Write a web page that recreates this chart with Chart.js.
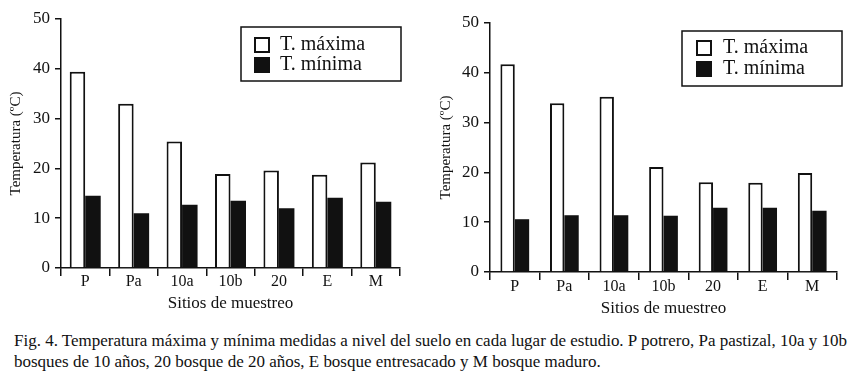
<!DOCTYPE html>
<html>
<head>
<meta charset="utf-8">
<script src="https://cdn.jsdelivr.net/npm/chart.js@4.4.0/dist/chart.umd.min.js"></script>
<style>
  body { margin:0; background:#fff; width:860px; height:384px; overflow:hidden; position:relative; }
  canvas { position:absolute; top:0; }
  #caption { position:absolute; left:14px; top:330px; font-family:"Liberation Serif","Times New Roman",serif;
             font-size:17px; line-height:21px; color:#111; white-space:nowrap; transform-origin:0 0; }
</style>
</head>
<body>
<canvas id="chartA" width="430" height="315" style="left:0"></canvas>
<canvas id="chartB" width="430" height="315" style="left:430px"></canvas>
<div id="caption">
  <div><span id="cap1">Fig. 4. Temperatura máxima y mínima medidas a nivel del suelo en cada lugar de estudio. P potrero, Pa pastizal, 10a y 10b</span></div>
  <div>bosques de 10 años, 20 bosque de 20 años, E bosque entresacado y M bosque maduro.</div>
</div>
<script>
// sitios de muestreo
const sitios = ["P", "Pa", "10a", "10b", "20", "E", "M"];
// panel izquierdo
const maxA = [39.4, 33.0, 25.4, 18.9, 19.6, 18.7, 21.2];
const minA = [14.5, 11.0, 12.7, 13.5, 12.0, 14.1, 13.3];
// panel derecho
const maxB = [41.7, 33.9, 35.2, 21.1, 18.0, 17.9, 19.9];
const minB = [10.6, 11.4, 11.4, 11.3, 12.9, 12.9, 12.3];
const yTicks = [0, 10, 20, 30, 40, 50];

const serif = '"Liberation Serif", "Times New Roman", serif';
const ink = '#111';

// legend drawn as a framed box inside the plot
const boxLegend = {
  id: 'boxLegend',
  afterDraw(chart, args, o) {
    const ctx = chart.ctx;
    ctx.save();
    ctx.strokeStyle = ink;
    ctx.lineWidth = 1.5;
    ctx.strokeRect(o.x, o.y, o.w, o.h);
    ctx.font = '20px ' + serif;
    ctx.textBaseline = 'middle';
    chart.data.datasets.forEach((ds, i) => {
      const cy = o.y + o.first + i * o.gap;
      ctx.fillStyle = ds.backgroundColor;
      ctx.fillRect(o.x + o.sx, cy - 7, 14, 14);
      ctx.lineWidth = 2;
      ctx.strokeRect(o.x + o.sx, cy - 7, 14, 14);
      ctx.fillStyle = ink;
      ctx.fillText(ds.label, o.x + o.tx, cy);
    });
    ctx.restore();
  }
};

function makeChart(id, maxVals, minVals, g) {
  return new Chart(document.getElementById(id), {
    type: 'bar',
    data: {
      labels: sitios,
      datasets: [
        { label: 'T. máxima', data: maxVals, backgroundColor: '#fff', borderColor: ink, borderWidth: 2 },
        { label: 'T. mínima', data: minVals, backgroundColor: ink, borderColor: ink, borderWidth: 0 }
      ]
    },
    options: {
      responsive: false,
      animation: false,
      layout: { padding: { top: g.top, right: g.right, bottom: 0, left: 0 } },
      datasets: { bar: { categoryPercentage: g.cat, barPercentage: 1.0 } },
      plugins: {
        legend: { display: false },
        tooltip: { enabled: false },
        boxLegend: g.legend
      },
      scales: {
        x: {
          afterFit(s) { s.height = g.xh; },
          grid: { offset: true, drawOnChartArea: false, drawTicks: true, tickLength: 8, color: ink, lineWidth: 1.5 },
          border: { display: true, color: ink, width: 1.5 },
          ticks: { color: ink, font: { family: serif, size: 16 }, padding: g.lp, maxRotation: 0 },
          title: { display: true, text: 'Sitios de muestreo', color: ink, font: { family: serif, size: 17 }, padding: { top: 0, bottom: g.tp } }
        },
        y: {
          min: yTicks[0],
          max: yTicks[yTicks.length - 1],
          afterFit(s) { s.width = g.yw; },
          afterBuildTicks(s) { s.ticks = yTicks.map(v => ({ value: v })); },
          grid: { drawOnChartArea: false, drawTicks: true, tickLength: 6, color: ink, lineWidth: 1.5 },
          border: { display: true, color: ink, width: 1.5 },
          ticks: { color: ink, font: { family: serif, size: 17 }, padding: 5 },
          title: { display: true, text: 'Temperatura (ºC)', color: ink, font: { family: serif, size: 15 }, padding: { top: 7, bottom: 0 } }
        }
      }
    },
    plugins: [boxLegend]
  });
}

makeChart('chartA', maxA, minA, {
  top: 19, right: 30, xh: 47, yw: 61, cat: 0.64, lp: -4, tp: 1,
  legend: { x: 241, y: 27, w: 160, h: 54, sx: 14, tx: 39, first: 18, gap: 20 }
});
makeChart('chartB', maxB, minB, {
  top: 23, right: 23, xh: 43, yw: 60, cat: 0.58, lp: -3, tp: -4,
  legend: { x: 252, y: 31, w: 160, h: 55, sx: 15, tx: 41, first: 17, gap: 21 }
});

// condensed caption, as in the printed figure
const cap = document.getElementById('caption');
const w1 = document.getElementById('cap1').getBoundingClientRect().width;
cap.style.transform = 'scaleX(' + (833 / w1) + ')';
</script>
</body>
</html>
